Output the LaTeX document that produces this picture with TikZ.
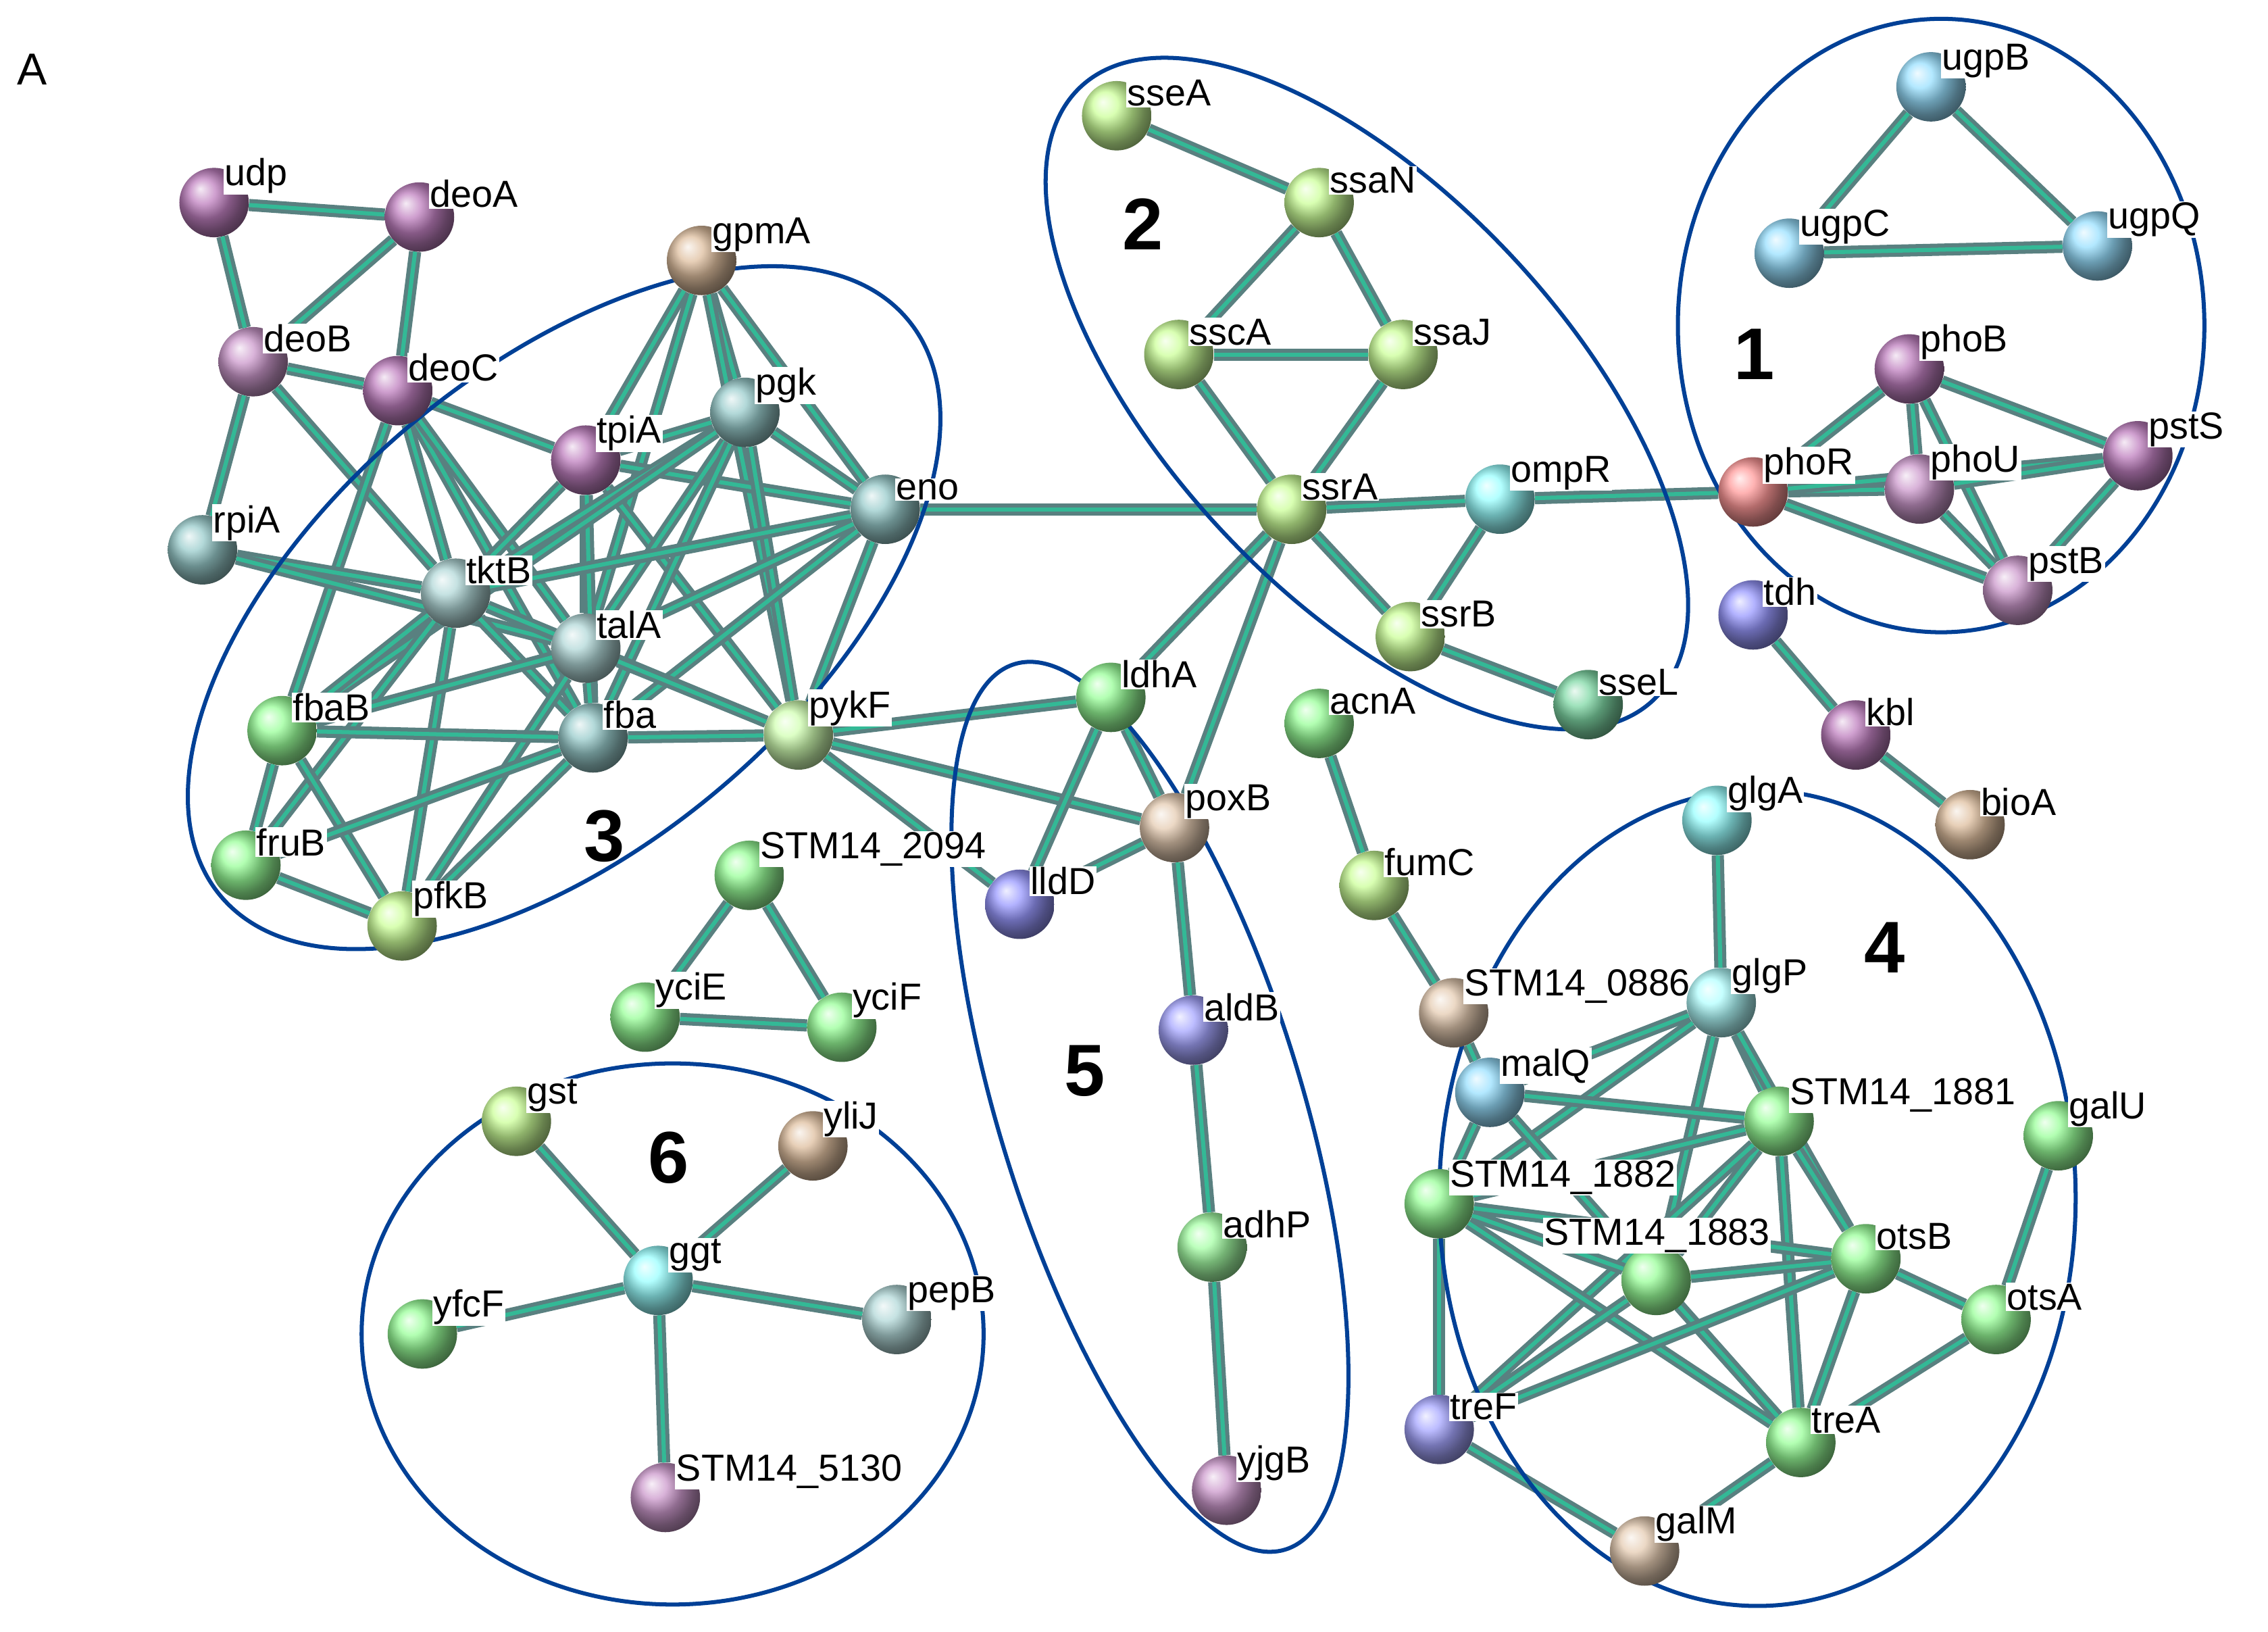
\documentclass[tikz,border=0pt]{standalone}
\usepackage{fontspec}
\setmainfont{Liberation Sans}
\pgfdeclarelayer{bg}
\pgfsetlayers{bg,main}
\begin{document}
\begin{tikzpicture}[x=0.05cm,y=-0.05cm,
 p/.style={circle,minimum size=2.4cm,inner sep=0pt,shading=ball,ball color=#1},
 lb/.style={font=\fontsize{37}{39}\selectfont,fill=white,inner sep=1pt,anchor=south west,label distance=-22pt},
 e/.style={line width=4pt,draw=gray!70!teal,double=cyan!60!green!80!yellow,double distance=4pt},
 cl/.style={draw=blue!45!black!75!cyan,line width=4pt},
 num/.style={font=\fontsize{72}{74}\selectfont\bfseries}]
\useasboundingbox (0,0) rectangle (1568,1128);
\def\N#1#2#3#4{\node[p=#4,label={[lb]40:#2}] (#1) at #3 {};}
\node[font=\fontsize{44}{46}\selectfont] (A) at (22,48) {A};
% clusters
\draw[cl] (390,420) ellipse[x radius=310,y radius=165,rotate=40];
\draw[cl] (945,272) ellipse[x radius=290,y radius=138,rotate=-47];
\draw[cl] (1342,225) ellipse[x radius=182,y radius=212];
\draw[cl] (795,765) ellipse[x radius=105,y radius=320,rotate=17];
\draw[cl] (1215,828) ellipse[x radius=220,y radius=282];
\draw[cl] (465,922) ellipse[x radius=215,y radius=187];
\node[num] (n1) at (1213,245) {1};
\node[num] (n2) at (790,155) {2};
\node[num] (n3) at (418,578) {3};
\node[num] (n4) at (1303,655) {4};
\node[num] (n5) at (750,740) {5};
\node[num] (n6) at (462,800) {6};
% nodes
\N{udp}{udp}{(148,140)}{violet!50}
\N{deoA}{deoA}{(290,150)}{violet!50}
\N{deoB}{deoB}{(175,250)}{violet!40}
\N{deoC}{deoC}{(275,270)}{violet!50}
\N{gpmA}{gpmA}{(485,180)}{brown!50}
\N{rpiA}{rpiA}{(140,380)}{teal!40}
\N{tpiA}{tpiA}{(405,318)}{violet!50}
\N{pgk}{pgk}{(515,285)}{teal!40}
\N{eno}{eno}{(612,352)}{teal!40}
\N{tktB}{tktB}{(315,410)}{teal!30}
\N{talA}{talA}{(405,448)}{teal!30}
\N{fbaB}{fbaB}{(195,505)}{green!40}
\N{fba}{fba}{(410,510)}{teal!40}
\N{pykF}{pykF}{(552,508)}{yellow!40!green!30}
\N{fruB}{fruB}{(170,598)}{green!40}
\N{pfkB}{pfkB}{(278,640)}{yellow!50!green!40}
\N{sseA}{sseA}{(772,80)}{yellow!50!green!40}
\N{ssaN}{ssaN}{(912,140)}{yellow!50!green!40}
\N{sscA}{sscA}{(815,245)}{yellow!50!green!40}
\N{ssaJ}{ssaJ}{(970,245)}{yellow!50!green!40}
\N{ssrA}{ssrA}{(893,352)}{yellow!50!green!40}
\N{ompR}{ompR}{(1037,345)}{cyan!40}
\N{ssrB}{ssrB}{(975,440)}{yellow!50!green!40}
\N{sseL}{sseL}{(1098,487)}{green!40!teal!50}
\N{ugpB}{ugpB}{(1335,60)}{blue!30!cyan!40}
\N{ugpC}{ugpC}{(1237,175)}{blue!30!cyan!40}
\N{ugpQ}{ugpQ}{(1450,170)}{blue!30!cyan!40}
\N{phoB}{phoB}{(1320,255)}{violet!50}
\N{phoR}{phoR}{(1212,340)}{red!40}
\N{phoU}{phoU}{(1327,338)}{violet!40}
\N{pstS}{pstS}{(1478,315)}{violet!50}
\N{pstB}{pstB}{(1395,408)}{violet!40}
\N{tdh}{tdh}{(1212,425)}{blue!40}
\N{kbl}{kbl}{(1283,508)}{violet!50}
\N{bioA}{bioA}{(1362,570)}{brown!50}
\N{ldhA}{ldhA}{(768,482)}{green!40}
\N{poxB}{poxB}{(812,572)}{brown!40}
\N{lldD}{lldD}{(705,625)}{blue!40}
\N{acnA}{acnA}{(912,500)}{green!40}
\N{fumC}{fumC}{(950,612)}{yellow!50!green!40}
\N{s2094}{STM14\_2094}{(518,605)}{green!40}
\N{yciE}{yciE}{(446,703)}{green!40}
\N{yciF}{yciF}{(582,710)}{green!40}
\N{aldB}{aldB}{(825,712)}{blue!35}
\N{adhP}{adhP}{(838,862)}{green!35}
\N{yjgB}{yjgB}{(848,1030)}{violet!40}
\N{glgA}{glgA}{(1187,567)}{cyan!40}
\N{s0886}{STM14\_0886}{(1005,700)}{brown!40}
\N{glgP}{glgP}{(1190,693)}{cyan!30}
\N{malQ}{malQ}{(1030,755)}{blue!30!cyan!40}
\N{s1881}{STM14\_1881}{(1230,775)}{green!40}
\N{galU}{galU}{(1423,785)}{green!40}
\N{s1882}{STM14\_1882}{(995,832)}{green!40}
\N{otsB}{otsB}{(1290,870)}{green!40}
\node[p=green!40,label={[lb,label distance=-8pt,anchor=south]88:STM14\_1883}] (s1883) at (1145,885) {};
\N{otsA}{otsA}{(1380,912)}{green!40}
\N{treF}{treF}{(995,988)}{blue!35}
\N{treA}{treA}{(1245,997)}{green!40}
\N{galM}{galM}{(1137,1072)}{brown!40}
\N{gst}{gst}{(357,775)}{yellow!50!green!40}
\N{yliJ}{yliJ}{(562,792)}{brown!50}
\N{ggt}{ggt}{(455,885)}{cyan!40}
\N{yfcF}{yfcF}{(292,922)}{green!40}
\N{pepB}{pepB}{(620,912)}{teal!30}
\N{s5130}{STM14\_5130}{(460,1035)}{violet!40}
% edges
\begin{pgfonlayer}{bg}
\foreach \a/\b in {udp/deoA,udp/deoB,deoA/deoB,deoA/deoC,deoB/deoC,deoB/rpiA,deoB/tktB,deoC/tktB,deoC/tpiA,deoC/fba,deoC/fbaB,deoC/talA,rpiA/tktB,rpiA/talA,gpmA/tpiA,gpmA/pgk,gpmA/eno,gpmA/pykF,gpmA/talA,tpiA/pgk,tpiA/eno,tpiA/tktB,tpiA/talA,tpiA/fba,tpiA/pykF,pgk/eno,pgk/tktB,pgk/talA,pgk/fba,pgk/pykF,pgk/fbaB,eno/tktB,eno/talA,eno/fba,eno/pykF,eno/ssrA,tktB/talA,tktB/fbaB,tktB/fba,tktB/pykF,tktB/pfkB,tktB/fruB,talA/fba,talA/pykF,talA/pfkB,talA/fbaB,fbaB/fruB,fbaB/pfkB,fbaB/fba,fba/pykF,fba/pfkB,fba/fruB,fruB/pfkB,pykF/ldhA,pykF/poxB,pykF/lldD,sseA/ssaN,ssaN/sscA,ssaN/ssaJ,sscA/ssaJ,sscA/ssrA,ssaJ/ssrA,ssrA/ompR,ssrA/ssrB,ompR/ssrB,ssrB/sseL,ssrA/ldhA,ssrA/poxB,ompR/phoR,ugpB/ugpC,ugpB/ugpQ,ugpC/ugpQ,phoB/phoR,phoB/phoU,phoB/pstS,phoB/pstB,phoR/phoU,phoR/pstS,phoR/pstB,phoU/pstS,phoU/pstB,pstS/pstB,tdh/kbl,kbl/bioA,ldhA/poxB,ldhA/lldD,poxB/lldD,poxB/aldB,aldB/adhP,adhP/yjgB,acnA/fumC,fumC/s0886,s2094/yciE,s2094/yciF,yciE/yciF,glgA/glgP,glgP/malQ,glgP/s1881,glgP/s1882,glgP/s1883,glgP/otsB,malQ/s1881,malQ/s1882,malQ/s1883,malQ/treA,s1881/s1882,s1881/s1883,s1881/otsB,s1881/treA,s1881/treF,galU/otsA,s1882/s1883,s1882/otsB,s1882/treA,s1882/treF,s1883/otsB,s1883/treA,s1883/treF,otsB/otsA,otsB/treA,otsB/treF,otsA/treA,treF/galM,treA/galM,s0886/malQ,gst/ggt,yliJ/ggt,ggt/yfcF,ggt/pepB,ggt/s5130}
  \draw[e] (\a) -- (\b);
\end{pgfonlayer}
\end{tikzpicture}
\end{document}
